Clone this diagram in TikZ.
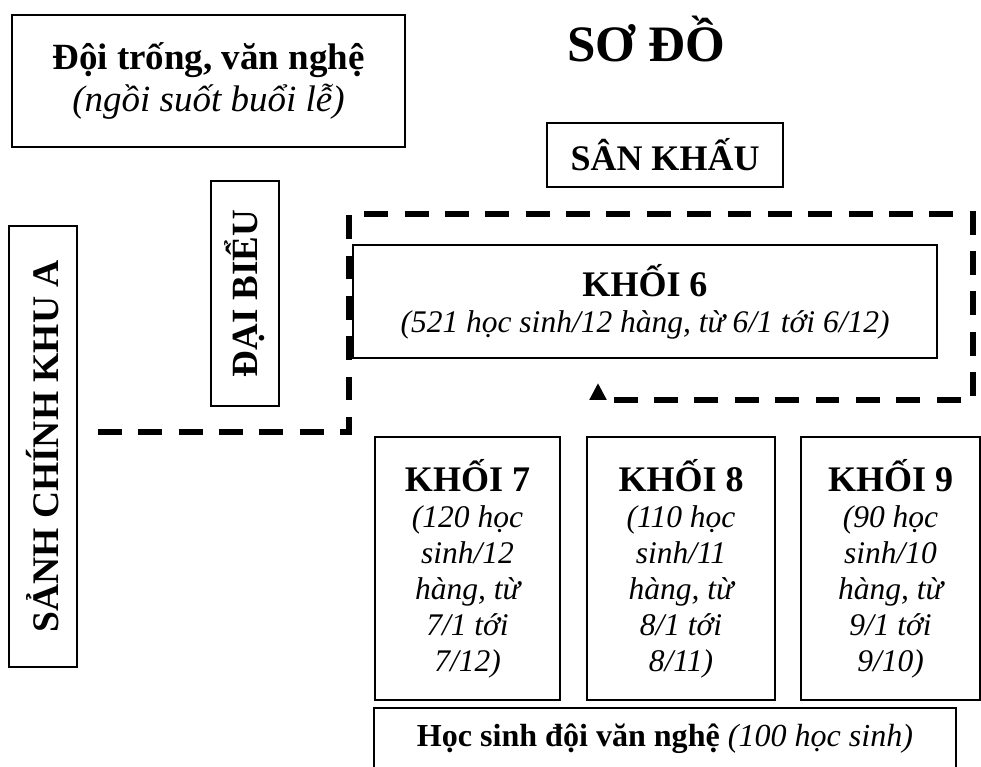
\documentclass[tikz,border=0pt]{standalone}
\usepackage{fontspec}
\setmainfont{Liberation Serif}
\usetikzlibrary{arrows.meta}

\begin{document}
\begin{tikzpicture}[x=0.025cm,y=-0.025cm,
    every node/.style={inner sep=0pt,align=center},
    box/.style={draw,line width=1.4pt},
    khoi/.style={box,minimum height=6.575cm,font=\fontsize{22.4}{25.6}\selectfont},
    route/.style={line width=4.5pt,dash pattern=on 17pt off 11.7pt}]
  \useasboundingbox (0,0) rectangle (981,767);
  \node[box,minimum width=9.825cm,minimum height=3.3cm,font=\fontsize{26.3}{30}\selectfont] (trong) at (208.5,81)
    {{\bfseries Đội trống, văn nghệ}\\{\itshape (ngồi suốt buổi lễ)}};
  \node[anchor=base,font=\fontsize{36.3}{40}\selectfont\bfseries] (title) at (646,62) {SƠ ĐỒ};
  \node[box,minimum width=5.9cm,minimum height=1.6cm,font=\fontsize{25.6}{30}\selectfont\bfseries] (sankhau) at (665,155) {SÂN KHẤU};
  \node[box,rotate=90,minimum width=11.025cm,minimum height=1.7cm,font=\fontsize{26.7}{30}\selectfont\bfseries] (sanh) at (43,446.5) {SẢNH CHÍNH KHU A};
  \node[box,rotate=90,minimum width=5.625cm,minimum height=1.7cm,font=\fontsize{26.3}{30}\selectfont\bfseries] (daibieu) at (245,293.5) {ĐẠI BIỂU};
  \node[box,minimum width=14.6cm,minimum height=2.825cm,font=\fontsize{22.4}{25.6}\selectfont] (k6) at (645,301.5)
    {{\fontsize{25.6}{25.6}\selectfont\bfseries KHỐI 6}\\{\itshape (521 học sinh/12 hàng, từ 6/1 tới 6/12)}};
  \node[khoi,minimum width=4.625cm] (k7) at (467.5,568.5)
    {{\fontsize{25.6}{25.6}\selectfont\bfseries KHỐI 7}\\{\itshape (120 học}\\{\itshape sinh/12}\\{\itshape hàng, từ}\\{\itshape 7/1 tới}\\{\itshape 7/12)}};
  \node[khoi,minimum width=4.7cm] (k8) at (681,568.5)
    {{\fontsize{25.6}{25.6}\selectfont\bfseries KHỐI 8}\\{\itshape (110 học}\\{\itshape sinh/11}\\{\itshape hàng, từ}\\{\itshape 8/1 tới}\\{\itshape 8/11)}};
  \node[khoi,minimum width=4.475cm] (k9) at (890.5,568.5)
    {{\fontsize{25.6}{25.6}\selectfont\bfseries KHỐI 9}\\{\itshape (90 học}\\{\itshape sinh/10}\\{\itshape hàng, từ}\\{\itshape 9/1 tới}\\{\itshape 9/10)}};
  \node[box,minimum width=14.55cm,minimum height=1.55cm,font=\fontsize{22.8}{26}\selectfont] (vannghe) at (665,739)
    {{\bfseries Học sinh đội văn nghệ} {\itshape (100 học sinh)}};
  \coordinate (lobby) at (98,432);
  \coordinate (c1) at (349,432);
  \coordinate (c2) at (349,214);
  \coordinate (c3) at (973,214);
  \coordinate (c4) at (973,400);
  \coordinate (c5) at (598,400);
  \coordinate (entry) at (598,383);
  \draw[route,-{Triangle[width=11.5pt,length=12pt]}] (lobby) -- (c1) -- (c2) -- (c3) -- (c4) -- (c5) -- (entry);
\end{tikzpicture}
\end{document}
